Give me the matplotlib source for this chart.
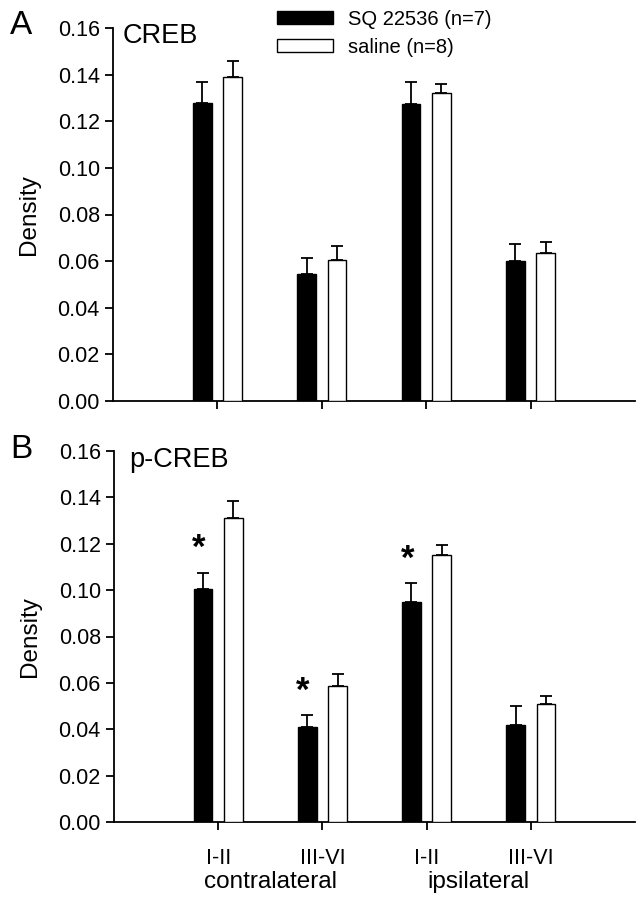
import matplotlib
matplotlib.use("Agg")
import matplotlib.pyplot as plt
import numpy as np
from matplotlib.patches import Patch

plt.rcParams['font.family'] = ['Liberation Sans', 'DejaVu Sans']

# ---- data ----
categories = ['I-II', 'III-VI', 'I-II', 'III-VI']
sides = ['contralateral', 'ipsilateral']
series_names = ['SQ 22536 (n=7)', 'saline (n=8)']

creb_sq = [0.128, 0.0545, 0.1275, 0.060]
creb_sq_err = [0.009, 0.007, 0.0095, 0.0075]
creb_sal = [0.139, 0.0605, 0.132, 0.0635]
creb_sal_err = [0.007, 0.006, 0.004, 0.0045]

pcreb_sq = [0.1005, 0.041, 0.095, 0.042]
pcreb_sq_err = [0.007, 0.005, 0.008, 0.008]
pcreb_sal = [0.131, 0.0585, 0.115, 0.051]
pcreb_sal_err = [0.0075, 0.0055, 0.0046, 0.0035]
pcreb_signif = [True, True, True, False]

yticks = [0.00, 0.02, 0.04, 0.06, 0.08, 0.10, 0.12, 0.14, 0.16]

W, H = 637, 899
fig = plt.figure(figsize=(W / 100, H / 100), dpi=100)


def px_axes(left, top, right, bottom):
    return fig.add_axes([left / W, 1 - bottom / H, (right - left) / W, (bottom - top) / H])


def fx(px):
    return px / W


def fy(py):
    return 1 - py / H


x = np.arange(1, len(categories) + 1)
bw = 0.18
off = 0.145


def draw_panel(ax, sq, sq_err, sal, sal_err):
    ax.bar(x - off, sq, bw, color='black', edgecolor='black', linewidth=1, zorder=3)
    ax.bar(x + off, sal, bw, color='white', edgecolor='black', linewidth=1, zorder=3)
    for xs, v, e in ((x - off, sq, sq_err), (x + off, sal, sal_err)):
        ax.errorbar(xs, v, yerr=[np.zeros(len(e)), e], fmt='none', ecolor='black',
                    elinewidth=1.3, capsize=4.5, capthick=1.3, zorder=2)
    ax.set_xlim(0, 5)
    ax.set_ylim(0, 0.16)
    ax.set_yticks(yticks)
    ax.set_yticklabels([f'{t:.2f}' for t in yticks])
    ax.set_xticks(x)
    for s in ('top', 'right'):
        ax.spines[s].set_visible(False)
    for s in ('left', 'bottom'):
        ax.spines[s].set_linewidth(1.3)
    ax.tick_params(axis='both', direction='out', width=1.3, length=5.5, labelsize=15.5, pad=4)
    ax.set_ylabel('Density', fontsize=17.5)
    ax.yaxis.set_label_coords(-0.14, 0.5)


axA = px_axes(113, 28, 635, 401)
draw_panel(axA, creb_sq, creb_sq_err, creb_sal, creb_sal_err)
axA.set_xticklabels([])
fig.text(fx(123), fy(43), 'CREB', fontsize=19.5, ha='left', va='baseline')

axB = px_axes(114, 451, 635, 822)
draw_panel(axB, pcreb_sq, pcreb_sq_err, pcreb_sal, pcreb_sal_err)
axB.set_xticklabels(categories, fontsize=15.5)
axB.tick_params(axis='x', pad=13)
fig.text(fx(129), fy(467), 'p-CREB', fontsize=19.5, ha='left', va='baseline')
for i, sig in enumerate(pcreb_signif):
    if sig:
        axB.text(x[i] - off - 0.04, pcreb_sq[i] + pcreb_sq_err[i] + 0.0033, '*',
                 ha='center', va='bottom', fontsize=25, fontweight='bold')

for j, name in enumerate(sides):
    axB.annotate(name, xy=((x[2 * j] + x[2 * j + 1]) / 2, 0), xycoords=('data', 'axes fraction'),
                 xytext=(0, -43.5), textcoords='offset points', ha='center', va='center',
                 fontsize=17.5)

# panel letters (pixel positions)
fig.text(fx(21), fy(26), 'A', fontsize=24, ha='center', va='center')
fig.text(fx(21), fy(449), 'B', fontsize=24, ha='center', va='center')

handles = [Patch(facecolor='black', edgecolor='black', linewidth=1),
           Patch(facecolor='white', edgecolor='black', linewidth=1)]
fig.legend(handles, series_names, loc='upper left', bbox_to_anchor=(fx(277), fy(10)),
           frameon=False, fontsize=14.5, handlelength=2.8, handleheight=0.62,
           handletextpad=0.75, labelspacing=0.45, borderpad=0, borderaxespad=0)

fig.savefig('out.png', dpi=100)
